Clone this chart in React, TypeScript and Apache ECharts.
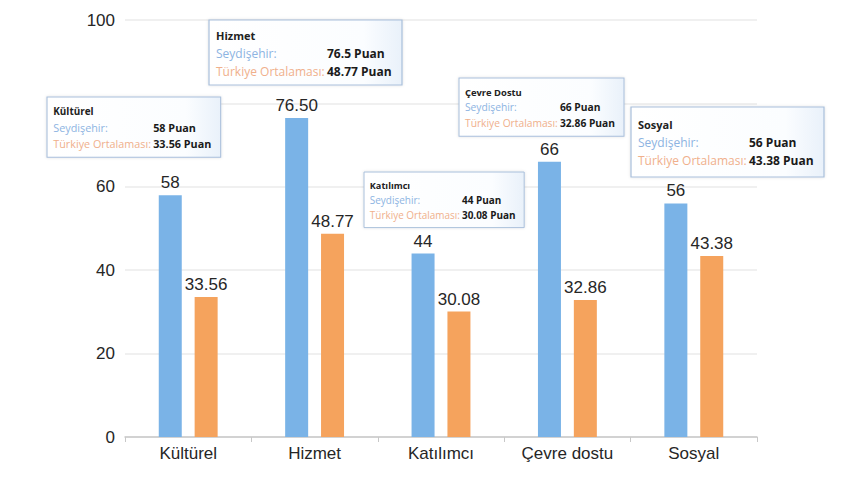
import React, { useEffect, useRef } from "react";
import * as echarts from "echarts";

const categories = ["Kültürel", "Hizmet", "Katılımcı", "Çevre dostu", "Sosyal"];
const seydisehir = [58, 76.5, 44, 66, 56];
const turkiye = [33.56, 48.77, 30.08, 32.86, 43.38];
const seydisehirLabels = ["58", "76.50", "44", "66", "56"];
const turkiyeLabels = ["33.56", "48.77", "30.08", "32.86", "43.38"];
const tipTitles = ["Kültürel", "Hizmet", "Katılımcı", "Çevre Dostu", "Sosyal"];
const tipSeydisehir = ["58 Puan", "76.5 Puan", "44 Puan", "66 Puan", "56 Puan"];
const tipTurkiye = ["33.56 Puan", "48.77 Puan", "30.08 Puan", "32.86 Puan", "43.38 Puan"];
const seriesNames = ["Seydişehir:", "Türkiye Ortalaması:"];
const yTicks = { min: 0, max: 100, interval: 20 };

// tooltip box placements (annotation layout)
const tipBoxes = [
  { x: 47, y: 97, s: 0.9, h: 67 },
  { x: 209, y: 20, s: 1.0, h: 65 },
  { x: 364, y: 172, s: 0.83, h: 67 },
  { x: 459, y: 78, s: 0.855, h: 68 },
  { x: 631, y: 107, s: 1.0, h: 70 },
];

function buildTip(i: number) {
  const b = tipBoxes[i];
  const w = 193;
  const top = b.h > 65 ? (b.h - 65) / 2 : 0;
  const Z = 100;
  return {
    type: "group",
    x: b.x,
    y: b.y,
    scaleX: b.s,
    scaleY: b.s,
    z: Z,
    children: [
      {
        type: "rect",
        z: Z,
        shape: { x: 0, y: 0, width: w, height: b.h },
        style: {
          fill: new echarts.graphic.LinearGradient(0, 0, 1, 0, [
            { offset: 0, color: "#ffffff" },
            { offset: 0.8, color: "#fbfdff" },
            { offset: 1, color: "#e9f1fa" },
          ]),
          stroke: "#a9bfdb",
          lineWidth: 1.2,
          shadowBlur: 3,
          shadowColor: "rgba(0,0,0,0.12)",
        },
      },
      {
        type: "text",
        z: Z + 1,
        x: 7,
        y: 15 + top,
        style: {
          text: tipTitles[i],
          font: "bold 11px 'Open Sans', sans-serif",
          fill: "#222",
          verticalAlign: "middle",
        },
      },
      {
        type: "text",
        z: Z + 1,
        x: 7,
        y: 33 + top,
        style: {
          text: seriesNames[0],
          font: "12px 'Open Sans', sans-serif",
          fill: "#8db4e2",
          verticalAlign: "middle",
        },
      },
      {
        type: "text",
        z: Z + 1,
        x: 118,
        y: 33 + top,
        style: {
          text: tipSeydisehir[i],
          font: "bold 12px 'Open Sans', sans-serif",
          fill: "#1a1a1a",
          verticalAlign: "middle",
        },
      },
      {
        type: "text",
        z: Z + 1,
        x: 7,
        y: 51 + top,
        style: {
          text: seriesNames[1],
          font: "12px 'Open Sans', sans-serif",
          fill: "#f0b08c",
          verticalAlign: "middle",
        },
      },
      {
        type: "text",
        z: Z + 1,
        x: 118,
        y: 51 + top,
        style: {
          text: tipTurkiye[i],
          font: "bold 12px 'Open Sans', sans-serif",
          fill: "#1a1a1a",
          verticalAlign: "middle",
        },
      },
    ],
  };
}

export default function App() {
  const ref = useRef<HTMLDivElement>(null);
  useEffect(() => {
    if (!ref.current) return;
    const chart = echarts.init(ref.current, null, { renderer: "svg" });
    const font = "'Liberation Sans', Arial, sans-serif";
    chart.setOption({
      animation: false,
      backgroundColor: "#ffffff",
      grid: { left: 125, right: 103, top: 20, bottom: 43 },
      xAxis: {
        type: "category",
        data: categories,
        axisLine: { lineStyle: { color: "#c8c8c8", width: 1.5 } },
        axisTick: { show: true, length: 5, lineStyle: { color: "#c8c8c8" } },
        axisLabel: { color: "#262626", fontSize: 17, fontFamily: font, margin: 8 },
      },
      yAxis: {
        type: "value",
        min: yTicks.min,
        max: yTicks.max,
        interval: yTicks.interval,
        axisLine: { show: false },
        axisTick: { show: false },
        axisLabel: { color: "#262626", fontSize: 17, fontFamily: font, margin: 10 },
        splitLine: { lineStyle: { color: "#ebebeb", width: 1.5 } },
      },
      series: [
        {
          name: "Seydişehir",
          type: "bar",
          data: seydisehir,
          barWidth: 23,
          barGap: "56%",
          itemStyle: { color: "#7ab3e7" },
          label: {
            show: true,
            position: "top",
            distance: 4,
            color: "#262626",
            fontSize: 17,
            fontFamily: font,
            formatter: (p: any) => seydisehirLabels[p.dataIndex],
          },
        },
        {
          name: "Türkiye Ortalaması",
          type: "bar",
          data: turkiye,
          barWidth: 23,
          itemStyle: { color: "#f5a35d" },
          label: {
            show: true,
            position: "top",
            distance: 4,
            color: "#262626",
            fontSize: 17,
            fontFamily: font,
            formatter: (p: any) => turkiyeLabels[p.dataIndex],
          },
        },
      ],
      graphic: tipTitles.map((_, i) => buildTip(i)),
    });
    return () => chart.dispose();
  }, []);
  return (
    <div
      ref={ref}
      style={{ position: "fixed", left: 0, top: 0, width: 860, height: 480, background: "#fff" }}
    />
  );
}
